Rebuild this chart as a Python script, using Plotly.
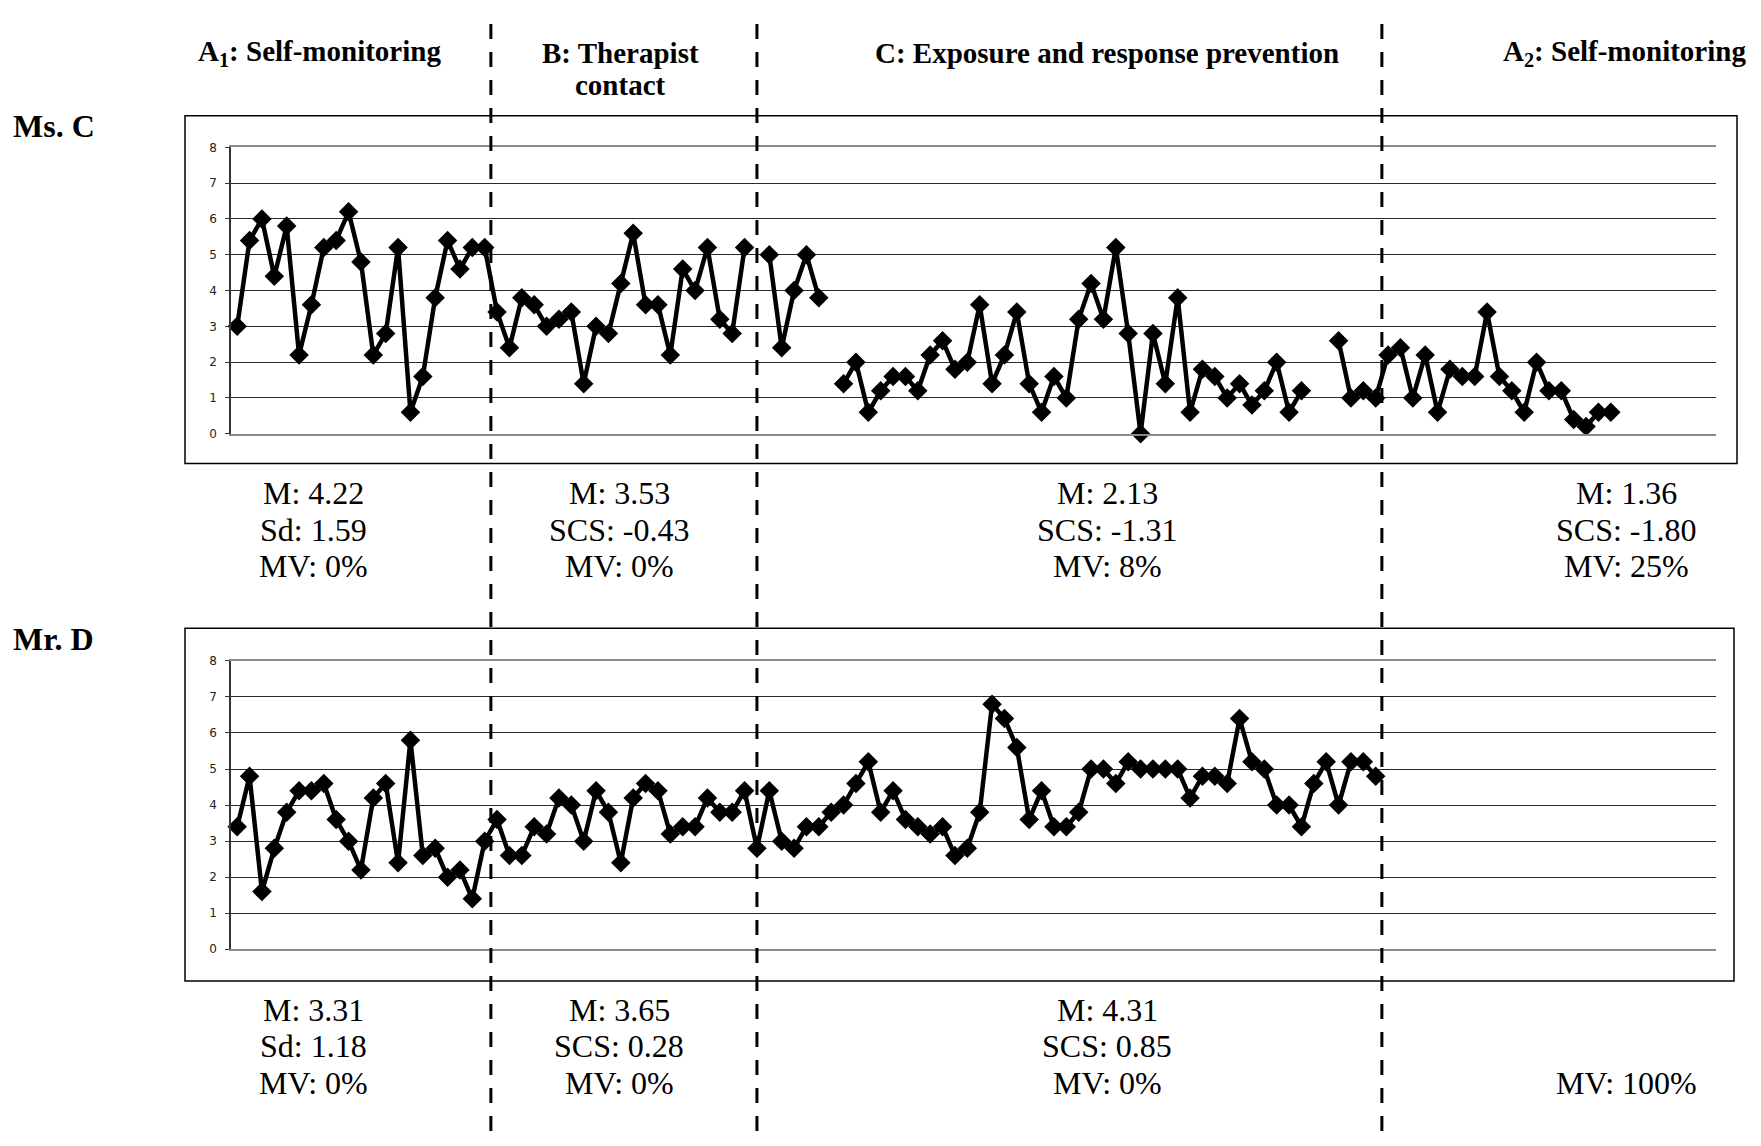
import plotly.graph_objects as go

# ---------------- data ----------------
days = list(range(120))  # observation days (category index)

ms_c = [3.0, 5.4, 6.0, 4.4, 5.8, 2.2, 3.6, 5.2, 5.4, 6.2, 4.8, 2.2, 2.8, 5.2, 0.6, 1.6, 3.8, 5.4, 4.6, 5.2, 5.2,
        3.4, 2.4, 3.8, 3.6, 3.0, 3.2, 3.4, 1.4, 3.0, 2.8, 4.2, 5.6, 3.6, 3.6, 2.2, 4.6, 4.0, 5.2, 3.2, 2.8, 5.2,
        None, 5.0, 2.4, 4.0, 5.0, 3.8, None, 1.4, 2.0, 0.6, 1.2, 1.6, 1.6, 1.2, 2.2, 2.6, 1.8, 2.0, 3.6, 1.4,
        2.2, 3.4, 1.4, 0.6, 1.6, 1.0, 3.2, 4.2, 3.2, 5.2, 2.8, 0.0, 2.8, 1.4, 3.8, 0.6, 1.8, 1.6, 1.0, 1.4, 0.8,
        1.2, 2.0, 0.6, 1.2,
        None, None, 2.6, 1.0, 1.2, 1.0,
        2.2, 2.4, 1.0, 2.2, 0.6, 1.8, 1.6, 1.6, 3.4, 1.6, 1.2, 0.6, 2.0, 1.2, 1.2, 0.4, 0.2, 0.6, 0.6,
        None, None, None, None, None, None, None, None]

mr_d = [3.4, 4.8, 1.6, 2.8, 3.8, 4.4, 4.4, 4.6, 3.6, 3.0, 2.2, 4.2, 4.6, 2.4, 5.8, 2.6, 2.8, 2.0, 2.2, 1.4, 3.0,
        3.6, 2.6, 2.6, 3.4, 3.2, 4.2, 4.0, 3.0, 4.4, 3.8, 2.4, 4.2, 4.6, 4.4, 3.2, 3.4, 3.4, 4.2, 3.8, 3.8, 4.4,
        2.8, 4.4, 3.0, 2.8, 3.4, 3.4, 3.8, 4.0, 4.6, 5.2, 3.8, 4.4, 3.6, 3.4, 3.2, 3.4, 2.6, 2.8, 3.8, 6.8,
        6.4, 5.6, 3.6, 4.4, 3.4, 3.4, 3.8, 5.0, 5.0, 4.6, 5.2, 5.0, 5.0, 5.0, 5.0, 4.2, 4.8, 4.8, 4.6, 6.4,
        5.2, 5.0, 4.0, 4.0, 3.4, 4.6, 5.2, 4.0, 5.2, 5.2, 4.8] + [None] * 27

phase_bounds = [20.5, 42, 92.5]
phase_titles = ["<b>A<sub>1</sub>: Self-monitoring</b>", "<b>B: Therapist</b>", "<b>contact</b>",
                "<b>C: Exposure and response prevention</b>", "<b>A<sub>2</sub>: Self-monitoring</b>"]
participants = ["<b>Ms. C</b>", "<b>Mr. D</b>"]

stats_c = [["M: 4.22", "Sd: 1.59", "MV: 0%"],
           ["M: 3.53", "SCS: -0.43", "MV: 0%"],
           ["M: 2.13", "SCS: -1.31", "MV: 8%"],
           ["M: 1.36", "SCS: -1.80", "MV: 25%"]]
stats_d = [["M: 3.31", "Sd: 1.18", "MV: 0%"],
           ["M: 3.65", "SCS: 0.28", "MV: 0%"],
           ["M: 4.31", "SCS: 0.85", "MV: 0%"],
           ["", "", "MV: 100%"]]
y_ticks = [0, 1, 2, 3, 4, 5, 6, 7, 8]

# ---------------- layout helpers ----------------
OFF = 8                      # page body margin (on every side)
W, H = 1761 - 2 * OFF, 1146 - 2 * OFF
def px(x):
    return (x - OFF) / W
def py(y):
    return 1 - (y - OFF) / H

SERIF = "Liberation Serif, Times New Roman, serif"

fig = go.Figure()
for ser, xa, ya in [(ms_c, "x", "y"), (mr_d, "x2", "y2")]:
    fig.add_trace(go.Scatter(
        x=days, y=ser, xaxis=xa, yaxis=ya, mode="lines+markers",
        line=dict(color="black", width=4.5),
        marker=dict(symbol="diamond", size=15, color="black"),
        connectgaps=False, cliponaxis=False, showlegend=False))

xdom = [px(231), px(1716)]
xcommon = dict(domain=xdom, range=[-0.5, 119.5], showgrid=False, zeroline=False,
               showticklabels=False, ticks="", showline=True, mirror=True,
               linecolor="#8a8a8a", linewidth=2)
ycommon = dict(range=[0, 8], tickvals=y_ticks, showgrid=True, gridcolor="#2a2a2a", gridwidth=1,
               zeroline=False, showline=True, linecolor="#333333", linewidth=1.5,
               ticks="outside", ticklen=4, tickcolor="#333333",
               tickfont=dict(family="DejaVu Sans", size=12, color="#222222"),
               ticklabelstandoff=6)

fig.update_layout(
    width=W, height=H, margin=dict(l=0, r=0, t=0, b=0),
    paper_bgcolor="white", plot_bgcolor="white",
    xaxis=dict(**xcommon, anchor="y"),
    yaxis=dict(**ycommon, domain=[py(432), py(142)], anchor="x"),
    xaxis2=dict(**xcommon, anchor="y2"),
    yaxis2=dict(**ycommon, domain=[py(954), py(662)], anchor="x2"),
)

shapes = []
# outer chart boxes
shapes.append(dict(type="rect", xref="paper", yref="paper", x0=px(185), x1=px(1737), y0=py(462), y1=py(110),
                   line=dict(color="black", width=1.5), layer="below"))
shapes.append(dict(type="rect", xref="paper", yref="paper", x0=px(185), x1=px(1734), y0=py(986), y1=py(629),
                   line=dict(color="black", width=1.5), layer="below"))
# phase change lines
for b in phase_bounds:
    shapes.append(dict(type="line", xref="x", yref="paper", x0=b, x1=b, y0=0, y1=1,
                       line=dict(color="black", width=3, dash="15px,13px")))
fig.update_layout(shapes=shapes)

ann = []
def add_text(text, x, y, size, xanchor="center"):
    ann.append(dict(text=text, x=px(x), y=py(y), xref="paper", yref="paper", showarrow=False,
                    xanchor=xanchor, yanchor="middle",
                    font=dict(family=SERIF, size=size, color="black")))

# phase headers
add_text(phase_titles[0], 319, 46, 29)
add_text(phase_titles[1], 620, 46, 29)
add_text(phase_titles[2], 620, 79, 29)
add_text(phase_titles[3], 1107, 46, 29)
add_text(phase_titles[4], 1624, 46, 29)
# participants
add_text(participants[0], 11, 120, 32, xanchor="left")
add_text(participants[1], 11, 640, 32, xanchor="left")

col_x = [313, 619, 1107, 1626]
for stats, ys in [(stats_c, [492, 529, 566]), (stats_d, [1015, 1052, 1089])]:
    for cx, lines in zip(col_x, stats):
        for t, yy in zip(lines, ys):
            if t:
                add_text(t, cx, yy, 32)
fig.update_layout(annotations=ann)

fig.write_html("out.html")
